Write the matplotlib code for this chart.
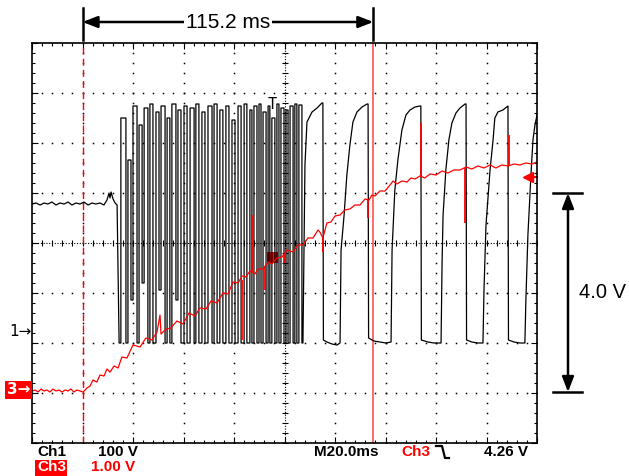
import numpy as np
import matplotlib
matplotlib.use('Agg')
import matplotlib.pyplot as plt
from matplotlib.transforms import blended_transform_factory
from matplotlib.lines import Line2D
from matplotlib.patches import Rectangle

# screen units: time in ms (20 ms/div, 10 div), level in divisions (8 div)

# Ch1 idle level before the burst (ends with the first drop)
ch1_idle_t = [0, 1.6, 3.2, 4.8, 6.3, 7.9, 9.5, 11.1, 12.7, 14.3, 15.8, 17.4, 19.0, 20.6,
              22.2, 23.8, 25.3, 26.9, 28.5, 29.7, 30.5, 30.9, 31.3, 32.1, 32.9, 33.7, 34.1, 34.5]
ch1_idle_v = [0.78, 0.80, 0.76, 0.80, 0.78, 0.82, 0.76, 0.80, 0.78, 0.82, 0.76, 0.80, 0.78, 0.82,
              0.76, 0.80, 0.78, 0.80, 0.76, 0.86, 1.00, 0.90, 1.02, 0.88, 0.80, 0.76, -0.58, -2.00]

# Ch1 fast burst, one entry per pulse
burst_rise = [35.2, 38.0, 40.0, 42.4, 44.4, 46.7, 49.1, 51.1, 53.5, 55.4, 57.8, 60.2, 62.6, 64.9,
              67.3, 69.7, 72.1, 74.4, 76.8, 79.2, 81.6, 84.0, 86.3, 87.9, 89.9, 91.5, 93.5, 95.0,
              97.0, 98.6, 100.6, 102.2, 104.1, 105.7]
burst_fall = [37.2, 39.2, 41.6, 43.6, 45.9, 47.9, 50.3, 52.7, 54.6, 57.0, 59.0, 61.4, 64.2, 66.1,
              68.5, 71.3, 73.3, 75.6, 78.0, 80.4, 82.8, 85.1, 87.1, 89.1, 90.7, 92.7, 94.2, 96.2,
              97.8, 99.8, 101.4, 103.4, 104.9, 106.9]
burst_top = [2.50, 1.66, 2.74, 2.36, 2.70, 2.78, 2.62, 2.74, 2.50, 2.78, 2.66, 2.74, 2.70, 2.78,
             2.62, 2.74, 2.78, 2.66, 2.74, 2.46, 2.74, 2.78, 2.66, 2.74, 2.78, 2.62, 2.74, 2.50,
             2.78, 2.70, 2.66, 2.74, 2.78, 2.76]
burst_low = [-2.0, -1.14, -2.0, -0.80, -2.0, -2.0, -0.94, -2.0, -2.0, -1.14, -2.0, -2.0, -2.0, -2.0,
             -2.0, -2.0, -2.0, -2.0, -2.0, -2.0, -2.0, -2.0, -2.0, -2.0, -2.0, -2.0, -2.0, -2.0,
             -2.0, -2.0, -2.0, -2.0, -2.0, -2.0]

# Ch1 slow pulses after the burst
ch1_tail_t = [107.3, 107.7, 108.1, 108.9, 110.9, 112.9, 114.8, 115.2, 115.4, 116.8, 118.8, 120.8,
              122.0, 122.4, 123.6, 124.7, 125.9, 127.1, 128.7, 130.7, 132.7, 133.1, 133.3, 135.4,
              137.8, 140.2, 142.2, 142.6, 143.7, 144.9, 146.5, 148.1, 149.7, 151.7, 153.6, 154.0,
              154.2, 156.8, 159.2, 162.0, 162.4, 162.8, 163.9, 165.1, 166.3, 167.9, 169.5, 171.5,
              171.9, 172.1, 174.2, 176.6, 178.6, 179.0, 179.8, 181.4, 182.6, 183.3, 184.5, 186.5,
              188.5, 188.7, 190.9, 193.2, 195.2, 195.6, 196.4, 197.6, 198.4, 199.2, 200.0]
ch1_tail_v = [-2.00, -0.14, 1.56, 2.42, 2.62, 2.70, 2.80, 2.80, -1.94, -1.98, -2.02, -2.04,
              -2.00, -0.14, 0.56, 1.36, 1.96, 2.42, 2.62, 2.72, 2.78, 2.78, -1.90, -1.96,
              -1.98, -2.00, -1.98, -0.14, 1.06, 1.66, 2.26, 2.56, 2.66, 2.72, 2.74, 2.74,
              -1.94, -1.98, -2.00, -2.00, -0.40, 0.56, 1.46, 2.06, 2.40, 2.60, 2.70, 2.78,
              2.78, -1.94, -1.98, -2.00, -2.00, -0.94, 0.36, 1.46, 2.06, 2.50, 2.62, 2.66,
              2.74, -1.94, -1.98, -2.00, -2.00, -1.14, 0.16, 1.36, 2.06, 2.36, 2.56]

# Ch3
ch3_t = [0, 1.2, 2.4, 3.6, 4.8, 5.9, 7.1, 8.3, 9.5, 10.7, 11.9, 13.1, 14.3, 15.4, 16.6, 17.8,
         19.0, 20.2, 21.8, 23.0, 24.2, 25.7, 26.9, 28.5, 29.7, 30.9, 32.5, 34.1, 35.6, 37.6,
         40.0, 42.8, 45.1, 47.5, 49.5, 50.7, 51.1, 53.1, 55.0, 57.4, 59.8, 62.2, 64.5, 66.5,
         68.9, 70.9, 73.3, 75.6, 77.6, 79.6, 81.6, 83.2, 84.7, 86.3, 88.3, 89.5, 91.5, 93.5,
         95.0, 97.0, 99.0, 101.0, 103.4, 105.3, 107.3, 109.3, 111.3, 113.3, 114.0, 115.2,
         116.8, 118.4, 120.0, 122.0, 123.9, 125.9, 127.9, 129.9, 131.9, 133.5, 134.6, 135.8,
         137.8, 139.8, 141.8, 143.0, 144.5, 146.5, 148.5, 150.1, 151.7, 153.6, 155.6, 157.6,
         160.0, 162.4, 164.7, 167.1, 169.5, 171.9, 174.2, 176.6, 179.0, 181.4, 183.7, 186.1,
         188.5, 190.9, 193.2, 195.6, 198.0, 200.0]
ch3_v = [-2.96, -2.94, -2.98, -2.92, -2.96, -2.94, -2.98, -2.92, -2.96, -2.94, -2.98, -2.94,
         -2.96, -2.92, -2.98, -2.94, -2.96, -2.98, -2.90, -2.86, -2.74, -2.78, -2.64, -2.66,
         -2.52, -2.58, -2.46, -2.50, -2.28, -2.30, -2.04, -2.08, -1.90, -1.94, -1.78, -1.44,
         -1.82, -1.72, -1.70, -1.56, -1.62, -1.40, -1.46, -1.30, -1.32, -1.16, -1.20, -1.00,
         -1.02, -0.78, -0.80, -0.66, -0.68, -0.56, -0.62, -0.52, -0.52, -0.38, -0.42, -0.30,
         -0.28, -0.14, -0.18, -0.04, -0.04, 0.10, 0.10, 0.26, 0.22, 0.10, 0.40, 0.42, 0.54,
         0.56, 0.66, 0.68, 0.76, 0.76, 0.88, 0.86, 0.96, 0.94, 1.04, 1.04, 1.16, 1.24, 1.18,
         1.24, 1.22, 1.30, 1.28, 1.34, 1.30, 1.38, 1.36, 1.44, 1.40, 1.46, 1.46, 1.52, 1.48,
         1.54, 1.50, 1.56, 1.50, 1.56, 1.54, 1.58, 1.56, 1.60, 1.58, 1.62]

# Ch3 glitches (time, from, to)
glitch_t = [83.2, 87.1, 92.3, 100.2, 115.2, 133.1, 154.0, 171.5, 188.9]
glitch_from = [-0.74, -0.58, -0.46, -0.20, 0.12, 0.86, 1.32, 1.50, 1.54]
glitch_to = [-1.94, 0.56, -0.94, -0.40, -0.18, 0.50, 2.40, 0.40, 2.16]
blob_t = [93.1, 97.4]
blob_lo = -0.40
blob_hi = -0.18

cursor_a = 20.0
cursor_b = 135.2
trig_t = 95.0
trig_level = 1.32
ch1_gnd = -1.76
ch3_gnd = -2.94
span_bottom = -2.98
span_top = 1.0

RED = '#ff0000'

fig = plt.figure(figsize=(6.29, 4.76), dpi=100)
ax = fig.add_axes([32/629, 33/476, 505/629, 400/476])
ax.set_xlim(0, 200)
ax.set_ylim(-4, 4)

# graticule
ax.set_xticks(np.arange(0, 201, 20))
ax.set_xticks(np.arange(0, 201, 4), minor=True)
ax.set_yticks(np.arange(-4, 4.01, 1))
ax.set_yticks(np.arange(-4, 4.01, 0.2), minor=True)
ax.tick_params(which='both', direction='in', top=True, right=True,
               labelbottom=False, labelleft=False, width=0.8, color='k')
ax.tick_params(which='major', length=4)
ax.tick_params(which='minor', length=2.5)
for s in ax.spines.values():
    s.set_linewidth(1.2)

ys = np.arange(-4, 4.01, 0.2)
xs = np.arange(0, 200.1, 4)
for xv in range(20, 200, 20):
    if xv != 100:
        ax.plot([xv] * len(ys), ys, ls='none', marker='s', ms=1.1, mew=0, color='k')
for yv in range(-3, 4):
    if yv != 0:
        ax.plot(xs, [yv] * len(xs), ls='none', marker='s', ms=1.1, mew=0, color='k')
ax.axvline(100, color='k', lw=0.8, ls=(0, (1, 1.5)))
ax.axhline(0, color='k', lw=0.8, ls=(0, (1, 1.5)))
ax.plot([100] * len(ys), ys, ls='none', marker='_', ms=5, mew=0.8, color='k')
ax.plot(xs, [0] * len(xs), ls='none', marker='|', ms=5, mew=0.8, color='k')

# cursors
ax.axvline(cursor_a, color=RED, lw=1, ls=(0, (5, 3)))
ax.axvline(cursor_b, color='#ff5050', lw=1.2)

# Ch1 trace
bt, bv = [], []
prev = ch1_idle_v[-1]
for r, f, top, low in zip(burst_rise, burst_fall, burst_top, burst_low):
    bt += [r, r, f, f]
    bv += [prev, top, top, low]
    prev = low
ch1_t = ch1_idle_t + bt + ch1_tail_t
ch1_v = ch1_idle_v + bv + ch1_tail_v
ax.plot(ch1_t, ch1_v, color='k', lw=0.9)

# Ch3 trace
ax.plot(ch3_t, ch3_v, color=RED, lw=0.9)
ax.vlines(glitch_t, glitch_from, glitch_to, color=RED, lw=1.3)
ax.fill_between(blob_t, blob_lo, blob_hi, color=RED, lw=0)

# markers
ax.text(trig_t, 2.78, 'T', ha='center', va='center', fontsize=11,
        family='DejaVu Sans Mono')
ax.plot([196.6], [trig_level], marker='<', ms=7, color=RED, clip_on=False)
ax.plot([196.6, 200], [trig_level, trig_level], color=RED, lw=1.5, clip_on=False)

left = blended_transform_factory(fig.transFigure, ax.transData)
fig.text(32/629, ch1_gnd, '1\u2192', transform=left, ha='right', va='center', fontsize=11)
fig.text(30/629, ch3_gnd, '3\u2192', transform=left, ha='right', va='center', fontsize=11,
         color='white', fontweight='bold',
         bbox=dict(boxstyle='square,pad=0.12', fc=RED, ec='none'))

# 115.2 ms span
top = blended_transform_factory(ax.transData, fig.transFigure)
for xv in (cursor_a, cursor_b):
    ax.plot([xv, xv], [1 - 8/476, 1 - 40/476], transform=top, color='k', lw=1.8, clip_on=False)
ya = 1 - 22/476
ax.annotate('', xy=(cursor_a, ya), xytext=(cursor_b, ya), xycoords=top, textcoords=top,
            arrowprops=dict(arrowstyle='<|-|>,head_length=0.9,head_width=0.35', lw=1.8,
                            color='k', shrinkA=0, shrinkB=0))
ax.text((cursor_a + cursor_b) / 2, ya, '115.2 ms', transform=top, ha='center', va='center',
        fontsize=15, family='Liberation Sans',
        bbox=dict(boxstyle='square,pad=0.1', fc='white', ec='none'))

# 4.0 V span
xa = 568/629
for yv in (span_top, span_bottom):
    fig.add_artist(Line2D([553/629, 582/629], [yv, yv], transform=left, color='k', lw=1.8))
ax.annotate('', xy=(xa, span_top), xytext=(xa, span_bottom), xycoords=left, textcoords=left,
            arrowprops=dict(arrowstyle='<|-|>,head_length=0.9,head_width=0.35', lw=1.8,
                            color='k', shrinkA=0, shrinkB=0))
fig.text(626/629, (span_top + span_bottom) / 2, '4.0 V', transform=left, ha='right',
         va='center', fontsize=14.5, family='Liberation Sans')

# readout
kw = dict(fontsize=11, fontweight='bold', family='Liberation Sans', va='center')
r1 = 1 - 452/476
r2 = 1 - 467/476
fig.text(37/629, r1, 'Ch1', **kw)
fig.text(98/629, r1, '100 V', **kw)
fig.text(314/629, r1, 'M20.0ms', **kw)
fig.text(401/629, r1, 'Ch3', color=RED, **kw)
fig.add_artist(Line2D(np.array([436, 442, 445, 449]) / 629,
                      1 - np.array([446, 446, 458, 458]) / 476, color='k', lw=1.6))
fig.text(484/629, r1, '4.26 V', **kw)
fig.add_artist(Rectangle((35/629, 0), 32/629, 16/476, transform=fig.transFigure,
                         fc=RED, ec='none'))
fig.text(37/629, r2, 'Ch3', color='white', **kw)
fig.text(91/629, r2, '1.00 V', color=RED, **kw)

fig.savefig('out.png', dpi=100)
